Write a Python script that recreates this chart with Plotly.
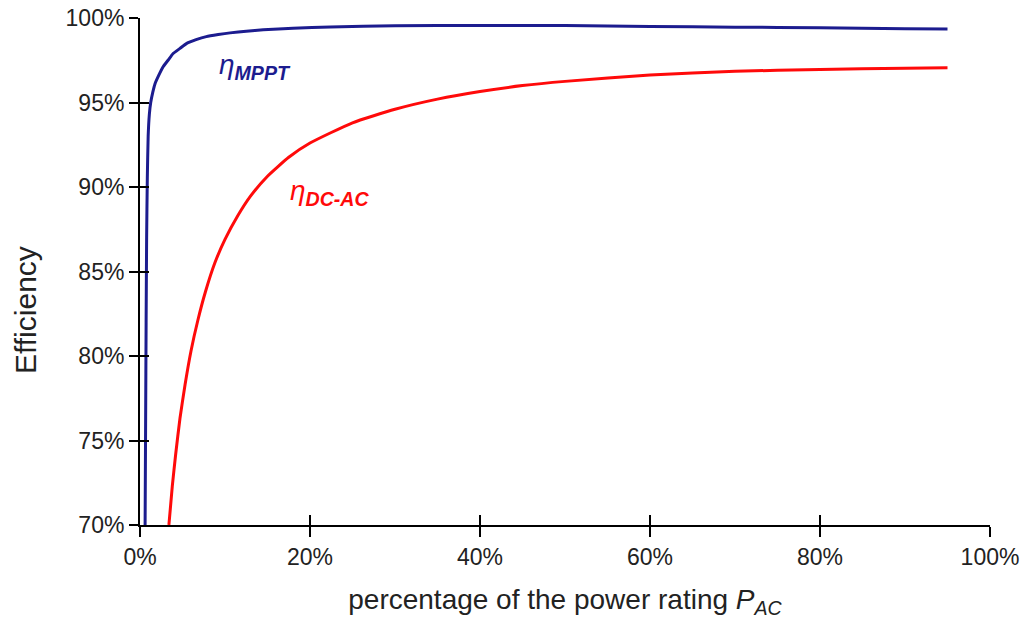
import plotly.graph_objects as go

# Load level (% of AC power rating) and efficiency (%) for each curve
mppt_load = [0.60, 0.66, 0.72, 0.78, 0.86, 0.96, 1.1, 1.26, 1.5, 1.76, 2.2, 2.7,
             3.3, 3.9, 4.7, 5.5, 6.6, 7.8, 9.2, 10.6, 12.5, 14.5, 18, 22.4,
             30, 40, 50, 60, 70, 80, 90, 95]
mppt_eff = [70.0, 76.0, 82.0, 87.0, 90.5, 93.0, 94.3, 95.0, 95.6, 96.1, 96.6, 97.1,
            97.5, 97.9, 98.2, 98.5, 98.72, 98.9, 99.02, 99.12, 99.22, 99.3, 99.39, 99.47,
            99.54, 99.56, 99.55, 99.5, 99.46, 99.42, 99.37, 99.35]

dcac_load = [3.4, 3.8, 4.2, 4.7, 5.3, 6.0, 6.8, 7.7, 8.8, 10, 11.5, 13, 15, 17.5,
             20, 25, 30, 35, 40, 45, 50, 60, 70, 80, 90, 95]
dcac_eff = [70.0, 72.3, 74.2, 76.3, 78.3, 80.3, 82.1, 83.8, 85.5, 86.9, 88.3, 89.46,
            90.64, 91.76, 92.6, 93.8, 94.6, 95.2, 95.65, 96.0, 96.25, 96.62, 96.85,
            96.95, 97.03, 97.06]

x_ticks = [0, 20, 40, 60, 80, 100]
y_ticks = [70, 75, 80, 85, 90, 95, 100]

BLUE = "#1c1c8f"
RED = "#ff0a0a"
INK = "#222222"
FONT = "Liberation Sans, Arial, sans-serif"

fig = go.Figure()
fig.add_trace(go.Scatter(x=mppt_load, y=mppt_eff, mode="lines",
                         line=dict(color=BLUE, width=3, shape="spline", smoothing=0.5),
                         showlegend=False, hoverinfo="skip"))
fig.add_trace(go.Scatter(x=dcac_load, y=dcac_eff, mode="lines",
                         line=dict(color=RED, width=3, shape="spline", smoothing=0.5),
                         showlegend=False, hoverinfo="skip"))
# invisible trace carrying the inner half of the crossing tick marks
fig.add_trace(go.Scatter(x=[None], y=[None], xaxis="x2", yaxis="y2",
                         showlegend=False, hoverinfo="skip"))

axis_common = dict(showgrid=False, zeroline=False, linecolor="black", linewidth=2,
                   tickcolor="black", tickwidth=2, automargin=False,
                   tickfont=dict(family=FONT, size=23, color=INK))

fig.update_layout(
    width=1027, height=619,
    margin=dict(l=140, r=37, t=18, b=94, autoexpand=False),
    paper_bgcolor="white", plot_bgcolor="white",
    font=dict(family=FONT, color=INK),
    xaxis=dict(range=[0, 100], tickvals=x_ticks, ticktext=[f"{v}%" for v in x_ticks],
               ticks="outside", ticklen=10,
               title=dict(text="percentage of the power rating <i>P<sub>AC</sub></i>",
                          font=dict(family=FONT, size=28, color=INK), standoff=21),
               **axis_common),
    yaxis=dict(range=[70, 100], tickvals=y_ticks, ticktext=[f"{v}%" for v in y_ticks],
               ticks="outside", ticklen=9, **axis_common),
    xaxis2=dict(range=[0, 100], overlaying="x", tickvals=x_ticks, showticklabels=False,
                ticks="inside", ticklen=10, tickcolor="black", tickwidth=2,
                showgrid=False, zeroline=False, showline=False, anchor="y2"),
    yaxis2=dict(range=[70, 100], overlaying="y", tickvals=y_ticks, showticklabels=False,
                ticks="inside", ticklen=9, tickcolor="black", tickwidth=2,
                showgrid=False, zeroline=False, showline=False, anchor="x2"),
)

# y-axis title, set a little below the axis midpoint
fig.add_annotation(x=-0.1353, y=0.424, xref="paper", yref="paper", showarrow=False,
                   xanchor="center", yanchor="middle", textangle=-90,
                   text="Efficiency", font=dict(family=FONT, size=30, color=INK))

fig.add_annotation(x=9.0, y=97.15, xref="x", yref="y", showarrow=False,
                   xanchor="left", yanchor="middle",
                   text="<i>η<sub><b>MPPT</b></sub></i>",
                   font=dict(family=FONT, size=28, color=BLUE))
fig.add_annotation(x=17.4, y=89.7, xref="x", yref="y", showarrow=False,
                   xanchor="left", yanchor="middle",
                   text="<i>η<sub><b>DC-AC</b></sub></i>",
                   font=dict(family=FONT, size=28, color=RED))

fig.write_html("out.html")
